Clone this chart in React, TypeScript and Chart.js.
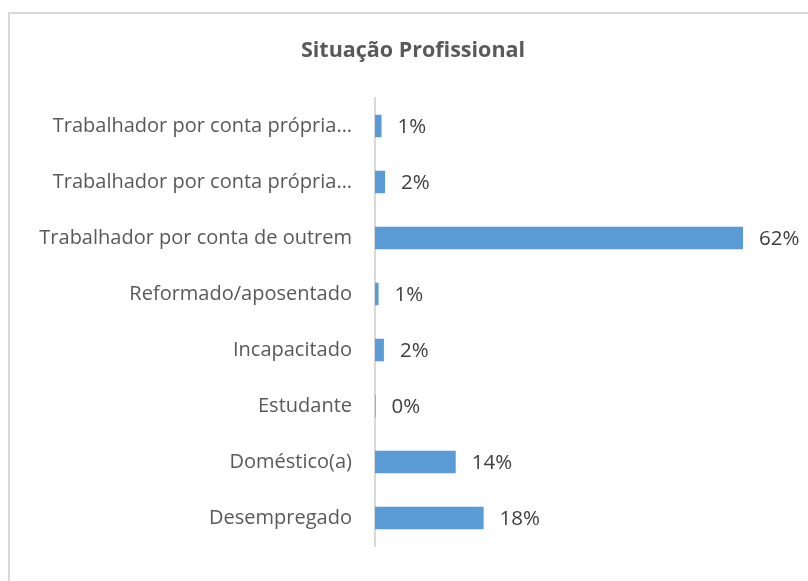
import React, { useEffect, useRef } from "react";
import { Chart, registerables } from "chart.js";

Chart.register(...registerables);

const title = "Situação Profissional";
const categories = [
  "Trabalhador por conta própria…",
  "Trabalhador por conta própria…",
  "Trabalhador por conta de outrem",
  "Reformado/aposentado",
  "Incapacitado",
  "Estudante",
  "Doméstico(a)",
  "Desempregado",
];
const percentages = [1.1, 1.7, 62, 0.6, 1.5, 0.1, 13.6, 18.3];

const FONT = "'Open Sans', 'Noto Sans', sans-serif";

export default function App() {
  const ref = useRef<HTMLCanvasElement | null>(null);

  useEffect(() => {
    if (!ref.current) return;

    const framePlugin = {
      id: "frame",
      beforeDraw(chart: any) {
        const ctx = chart.ctx;
        ctx.save();
        ctx.fillStyle = "#ffffff";
        ctx.fillRect(0, 0, chart.width, chart.height);
        ctx.strokeStyle = "#d9d9d9";
        ctx.lineWidth = 2;
        ctx.strokeRect(9, 13, 1000, 1000);
        ctx.restore();
      },
    };

    const titlePlugin = {
      id: "customTitle",
      afterDraw(chart: any) {
        const ctx = chart.ctx;
        ctx.save();
        ctx.font = `bold 21.5px ${FONT}`;
        ctx.fillStyle = "#595959";
        ctx.textAlign = "center";
        ctx.textBaseline = "alphabetic";
        ctx.fillText(title, 413, 57);
        ctx.restore();
      },
    };

    const valueLabels = {
      id: "valueLabels",
      afterDatasetsDraw(chart: any) {
        const ctx = chart.ctx;
        const meta = chart.getDatasetMeta(0);
        ctx.save();
        ctx.font = `20.5px ${FONT}`;
        ctx.fillStyle = "#404040";
        ctx.textAlign = "left";
        ctx.textBaseline = "middle";
        meta.data.forEach((bar: any, i: number) => {
          const v = percentages[i];
          ctx.fillText(Math.round(v) + "%", bar.x + 16, bar.y + 1);
        });
        ctx.restore();
      },
    };

    const chart = new Chart(ref.current, {
      type: "bar",
      data: {
        labels: categories,
        datasets: [
          {
            data: percentages,
            backgroundColor: "#5b9bd5",
            borderWidth: 0,
            barPercentage: 0.4,
            categoryPercentage: 1,
          },
        ],
      },
      options: {
        indexAxis: "y",
        responsive: false,
        animation: false,
        devicePixelRatio: 1,
        layout: { padding: { top: 98, bottom: 23, left: 0, right: 17.5 } },
        plugins: {
          legend: { display: false },
          title: { display: false },
          tooltip: { enabled: false },
        },
        scales: {
          x: { display: false, min: 0, max: 70 },
          y: {
            grid: { display: false, drawTicks: false },
            border: { display: true, color: "#d9d9d9", width: 2 },
            ticks: {
              padding: 23,
              color: "#595959",
              font: { family: FONT, size: 20 },
            },
            afterFit(scale: any) {
              scale.width = 375;
            },
          },
        },
      },
      plugins: [framePlugin, titlePlugin, valueLabels],
    });

    return () => chart.destroy();
  }, []);

  return (
    <div style={{ position: "fixed", left: 0, top: 0, width: 808, height: 581 }}>
      <canvas ref={ref} width={808} height={581} style={{ display: "block" }} />
    </div>
  );
}
